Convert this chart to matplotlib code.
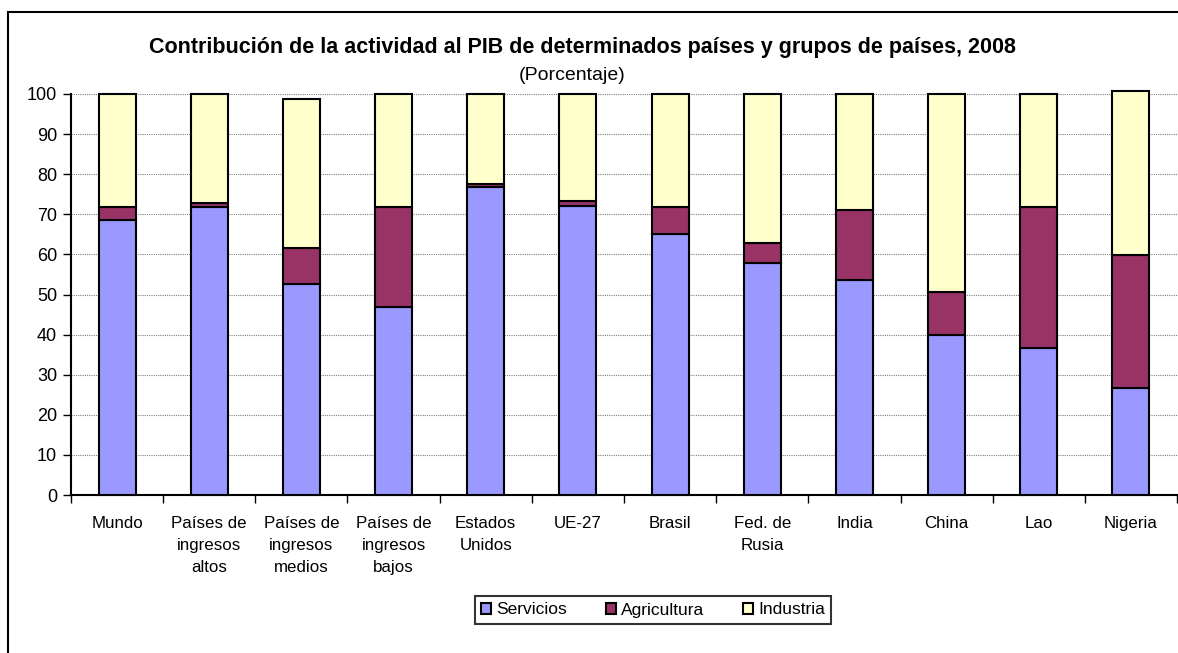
import matplotlib.pyplot as plt
import numpy as np
from matplotlib.patches import Rectangle

plt.rcParams['font.family'] = ['Liberation Sans', 'DejaVu Sans']

# data
categories = ['Mundo', 'Países de\ningresos\naltos', 'Países de\ningresos\nmedios',
              'Países de\ningresos\nbajos', 'Estados\nUnidos', 'UE-27', 'Brasil',
              'Fed. de\nRusia', 'India', 'China', 'Lao', 'Nigeria']
servicios = [68.6, 71.9, 52.6, 46.8, 76.7, 72.1, 65.0, 57.8, 53.6, 39.9, 36.7, 26.7]
agricultura = [3.3, 0.8, 8.9, 25.1, 0.8, 1.2, 6.9, 5.1, 17.5, 10.8, 35.2, 33.2]
industria = [28.1, 27.3, 37.3, 28.1, 22.5, 26.7, 28.1, 37.1, 28.9, 49.3, 28.1, 40.8]

col_serv = '#9999FF'
col_agri = '#993366'
col_ind = '#FFFFCC'

W, H = 1178, 653
fig = plt.figure(figsize=(W / 100, H / 100), dpi=100)

# outer chart frame (runs past the right and bottom edge)
fig.patches.append(Rectangle((8 / W, -0.05), 1.2, 1 - 12 / H + 0.05, transform=fig.transFigure,
                             fill=False, edgecolor='black', linewidth=1.5))

ax = fig.add_axes([71 / W, 158 / H, (1177 - 71) / W, 401 / H])

x = np.arange(len(categories))
bw = 0.4
kw = dict(width=bw, edgecolor='black', linewidth=1.5, zorder=3, clip_on=False)
ax.bar(x, servicios, color=col_serv, label='Servicios', **kw)
ax.bar(x, agricultura, bottom=servicios, color=col_agri, label='Agricultura', **kw)
bottom2 = np.array(servicios) + np.array(agricultura)
ax.bar(x, industria, bottom=bottom2, color=col_ind, label='Industria', **kw)

ax.set_xlim(-0.5, len(categories) - 0.5)
ax.set_ylim(0, 100)
ax.set_yticks(range(0, 101, 10))
ax.tick_params(axis='y', labelsize=13, length=6, width=1, direction='out', pad=4)
ax.yaxis.grid(True, color='#808080', linestyle=(0, (1, 1)), linewidth=0.8, zorder=0)
ax.set_axisbelow(True)

ax.set_xticks(x)
ax.set_xticklabels(categories, fontsize=12.2, linespacing=1.6, va='top')
ax.tick_params(axis='x', length=0, pad=15)
ax.set_xticks(np.arange(-0.5, len(categories), 1), minor=True)
ax.tick_params(axis='x', which='minor', length=6, width=1, direction='out')

for s in ['top', 'right']:
    ax.spines[s].set_visible(False)
for s in ['left', 'bottom']:
    ax.spines[s].set_linewidth(1.5)

fig.text(582 / W, 1 - 47 / H, 'Contribución de la actividad al PIB de determinados países y grupos de países, 2008',
         ha='center', va='center', fontsize=15.5, fontweight='bold')
fig.text(572 / W, 1 - 75 / H, '(Porcentaje)', ha='center', va='center', fontsize=14)

leg = fig.legend(loc='center', bbox_to_anchor=(653 / W, 1 - 610 / H), ncol=3, fontsize=12.5,
                 frameon=True, fancybox=False, edgecolor='black', handlelength=0.6,
                 handleheight=0.6, handletextpad=0.3, columnspacing=2.2, borderpad=0.35)
leg.get_frame().set_linewidth(1.5)

fig.savefig('out.png', dpi=100)
